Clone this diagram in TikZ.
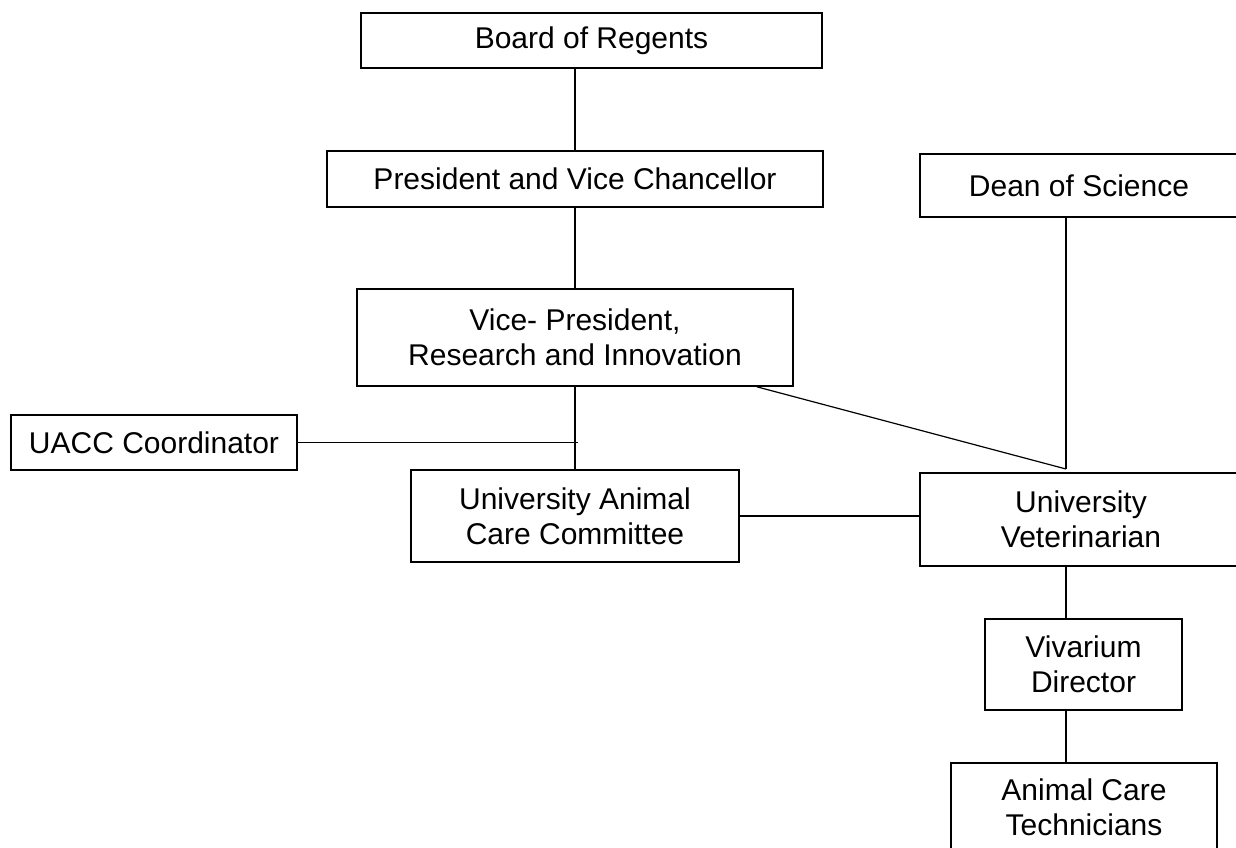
\documentclass[tikz,border=0pt]{standalone}
\usepackage{fontspec}
\setmainfont{Liberation Sans}
\usepackage{tikz}
\usetikzlibrary{positioning}

\begin{document}
\begin{tikzpicture}[x=0.75pt,y=-0.75pt,line width=0.9pt,
                    box/.style={draw,line width=1.2pt,align=center,inner sep=0pt,
                                font=\fontsize{22.5}{26}\selectfont}]
\useasboundingbox (0,0) rectangle (1236,848);

 \node[box,minimum width=345.75pt,minimum height=41.25pt] (regents) at (591.5,40.5) {Board of Regents};
 \node[box,minimum width=372pt,minimum height=42pt]       (pres)    at (575,179)    {President and Vice Chancellor};
 \node[box,minimum width=238.5pt,minimum height=47.25pt]  (dean)    at (1079,185.5) {Dean of Science};
 \node[box,minimum width=327pt,minimum height=72.75pt]    (vp)      at (575,337.5)  {Vice- President,\\Research and Innovation};
 \node[box,minimum width=214.5pt,minimum height=41.25pt]  (coord)   at (154,442.5)  {UACC Coordinator};
 \node[box,minimum width=246pt,minimum height=69pt]       (uacc)    at (575,516)    {University Animal\\Care Committee};
 \node[box,minimum width=241.5pt,minimum height=69.75pt]  (vet)     at (1081,519.5) {University\\Veterinarian};
 \node[box,minimum width=147.75pt,minimum height=68.25pt] (viv)     at (1083.5,664.5) {Vivarium\\Director};
 \node[box,minimum width=199.5pt,minimum height=66pt]     (tech)    at (1084,807)   {Animal Care\\Technicians};
 \coordinate (join) at (1066,469);

 \path (pres.north |- regents.south) edge (pres.north)
       (pres.south) edge (vp.north)
       (vp.south) edge (uacc.north)
       (coord.east) edge ([xshift=2.25pt]coord.east -| vp.south)
       (uacc.east) edge (uacc.east -| vet.west)
       (dean.south -| join) edge (join)
       ([xshift=-27.75pt]vp.south east) edge (join)
       (vet.south -| join) edge (viv.north -| join)
       (viv.south -| join) edge (tech.north -| join);

\end{tikzpicture}
\end{document}
